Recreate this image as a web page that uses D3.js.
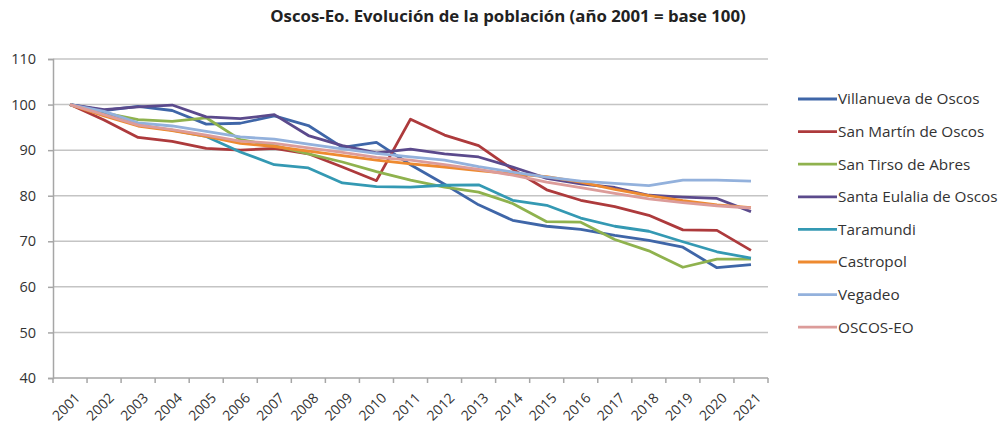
<!DOCTYPE html>
<html>
<head>
<meta charset="utf-8">
<script src="https://cdn.jsdelivr.net/npm/d3@7"></script>
<style>
  body { margin: 0; background: #fff; }
  text { font-family: "Open Sans", sans-serif; fill: #333; }
</style>
</head>
<body>
<svg id="viz" width="1000" height="428"></svg>
<script>
// years on the category axis
var years = d3.range(2001, 2022).map(String);

var seriesNames = ["Villanueva de Oscos", "San Martín de Oscos", "San Tirso de Abres",
  "Santa Eulalia de Oscos", "Taramundi", "Castropol", "Vegadeo", "OSCOS-EO"];

var seriesColors = ["#3f66a8", "#ad3a3c", "#8fb24e", "#5b4a8c", "#3499b3", "#ee8a30", "#93b1dc", "#dc9c9a"];

// index values, 2001 = 100
var villanueva   = [100, 98.7, 99.6, 98.7, 95.7, 95.9, 97.5, 95.4, 90.6, 91.7, 86.8, 82.5, 78.0, 74.6, 73.3, 72.6, 71.3, 70.2, 68.7, 64.2, 64.9];
var sanMartin    = [100, 96.6, 92.8, 91.9, 90.4, 90.0, 90.4, 89.2, 86.3, 83.3, 96.8, 93.3, 91.0, 85.8, 81.3, 79.0, 77.6, 75.7, 72.5, 72.4, 68.0];
var sanTirso     = [100, 98.2, 96.7, 96.3, 97.1, 92.3, 91.0, 89.2, 87.4, 85.3, 83.4, 81.9, 80.8, 78.3, 74.3, 74.2, 70.4, 67.9, 64.3, 66.1, 66.1];
var santaEulalia = [100, 98.9, 99.5, 99.9, 97.3, 96.9, 97.8, 93.2, 91.0, 89.4, 90.2, 89.2, 88.5, 86.3, 83.8, 82.6, 81.8, 80.1, 79.7, 79.4, 76.5];
var taramundi    = [100, 98.0, 95.5, 94.4, 93.0, 89.6, 86.8, 86.1, 82.8, 82.0, 81.9, 82.3, 82.4, 79.0, 77.9, 75.1, 73.3, 72.2, 69.9, 67.7, 66.3];
var castropol    = [100, 97.5, 95.3, 94.3, 93.0, 91.5, 90.8, 89.8, 88.8, 87.8, 87.0, 86.3, 85.5, 84.8, 84.2, 83.0, 81.4, 80.0, 78.9, 78.0, 77.4];
var vegadeo      = [100, 98.5, 96.0, 95.3, 94.1, 92.9, 92.4, 91.3, 90.3, 89.3, 88.5, 87.8, 86.4, 85.2, 84.1, 83.2, 82.7, 82.2, 83.4, 83.4, 83.2];
var oscosEo      = [100, 97.8, 95.5, 94.5, 93.3, 92.0, 91.5, 90.5, 89.5, 88.4, 87.8, 86.8, 85.8, 84.5, 83.0, 81.8, 80.5, 79.3, 78.5, 77.8, 77.3];

var allValues = [villanueva, sanMartin, sanTirso, santaEulalia, taramundi, castropol, vegadeo, oscosEo];

var yTicks = [40, 50, 60, 70, 80, 90, 100, 110];

var svg = d3.select("#viz");
var margin = {left: 53, top: 59, right: 232, bottom: 50};
var width = 1000 - margin.left - margin.right,
    height = 428 - margin.top - margin.bottom;

var x = d3.scaleBand().domain(years).range([0, width]).padding(0);
var y = d3.scaleLinear().domain([40, 110]).range([height, 0]);

var g = svg.append("g").attr("transform", "translate(" + margin.left + "," + margin.top + ")");

// title
svg.append("text")
  .attr("x", 508).attr("y", 22)
  .attr("text-anchor", "middle")
  .style("font-size", "16.8px").style("font-weight", "bold").style("fill", "#222")
  .text("Oscos-Eo. Evolución de la población (año 2001 = base 100)");

// gridlines
g.append("g").selectAll("line")
  .data(yTicks.slice(1))
  .enter().append("line")
    .attr("x1", 0).attr("x2", width)
    .attr("y1", d => y(d)).attr("y2", d => y(d))
    .attr("stroke", "#c4c4c4").attr("stroke-width", 1.5);

// y axis
var yAxis = g.append("g")
  .call(d3.axisLeft(y).tickValues(yTicks).tickSize(5).tickPadding(12));
yAxis.select(".domain").attr("stroke", "#a6a6a6").attr("stroke-width", 1.5);
yAxis.selectAll(".tick line").attr("stroke", "#a6a6a6").attr("stroke-width", 1.5);
yAxis.selectAll("text").style("font-size", "14.5px").style("fill", "#333").attr("font-family", null);

// x axis: ticks between categories
var xAxis = g.append("g").attr("transform", "translate(0," + height + ")");
xAxis.append("line")
  .attr("x1", 0).attr("x2", width)
  .attr("stroke", "#a6a6a6").attr("stroke-width", 1.5);
xAxis.selectAll("line.tk")
  .data(years.concat(["end"]))
  .enter().append("line")
    .attr("class", "tk")
    .attr("x1", (d, i) => i * x.step()).attr("x2", (d, i) => i * x.step())
    .attr("y1", 0).attr("y2", 5)
    .attr("stroke", "#a6a6a6").attr("stroke-width", 1.5);
xAxis.selectAll("text")
  .data(years)
  .enter().append("text")
    .attr("transform", d => "translate(" + (x(d) + x.bandwidth() / 2 + 4) + ",14) rotate(-45)")
    .attr("text-anchor", "end")
    .attr("dy", "0.7em")
    .style("font-size", "14px")
    .text(d => d);

// lines
var line = d3.line()
  .x((d, i) => x(years[i]) + x.bandwidth() / 2)
  .y(d => y(d));

g.append("g").selectAll("path")
  .data(allValues)
  .enter().append("path")
    .attr("d", d => line(d))
    .attr("fill", "none")
    .attr("stroke", (d, i) => seriesColors[i])
    .attr("stroke-width", 2.8)
    .attr("stroke-linejoin", "round");

// legend
var legend = svg.append("g").attr("transform", "translate(798,99)");
var item = legend.selectAll("g")
  .data(seriesNames)
  .enter().append("g")
    .attr("transform", (d, i) => "translate(0," + (i * 32.6) + ")");
item.append("line")
  .attr("x1", 0).attr("x2", 39)
  .attr("stroke", (d, i) => seriesColors[i])
  .attr("stroke-width", 2.8);
item.append("text")
  .attr("x", 40).attr("dy", "0.35em")
  .style("font-size", "15.3px")
  .text(d => d);
</script>
</body>
</html>
